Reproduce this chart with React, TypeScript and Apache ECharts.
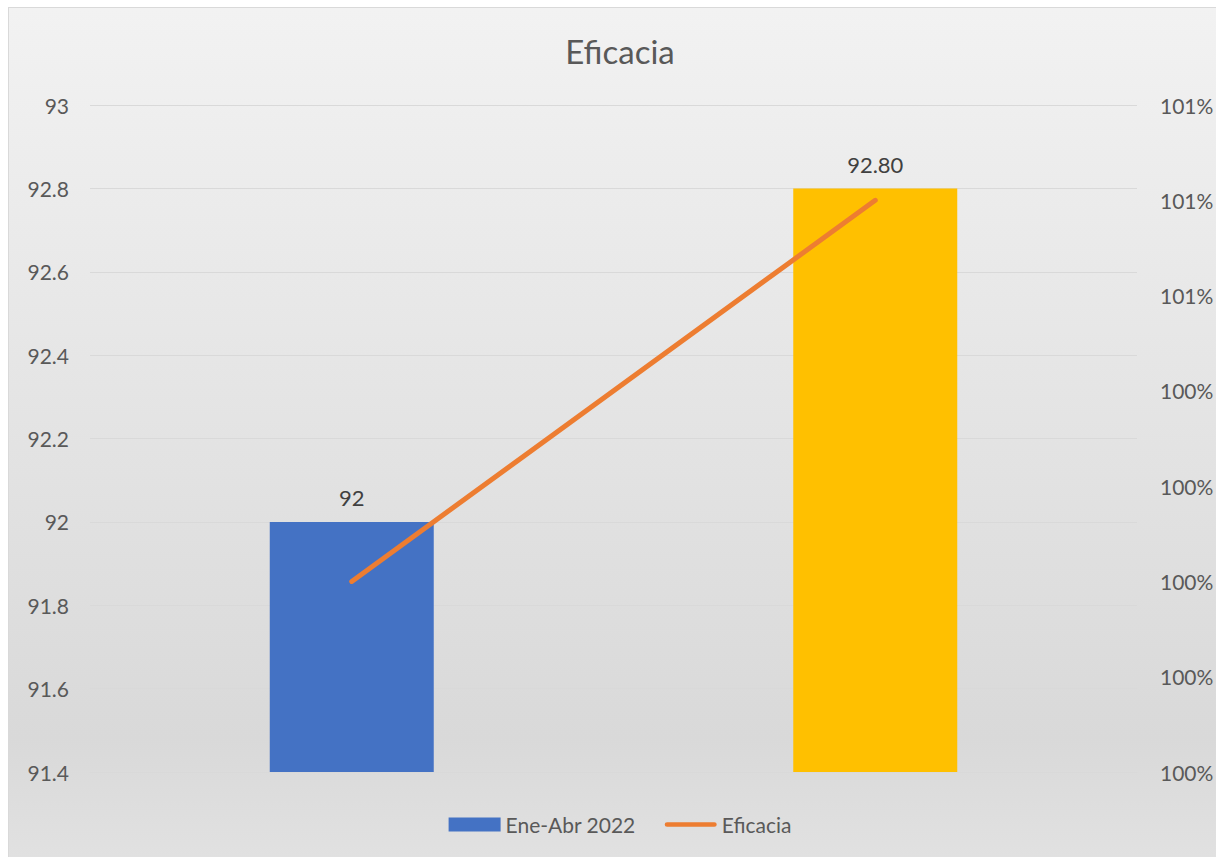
import React, { useEffect, useRef } from "react";
import * as echarts from "echarts";

const categories = ["Periodo 1", "Periodo 2"];
const barValues = [92, 92.8];
const barLabels = ["92", "92.80"];
const barColors = ["#4472C4", "#FFC000"];
const lineValues = [1.002, 1.006];
const barSeriesName = "Ene-Abr 2022";
const lineSeriesName = "Eficacia";
const titleText = "Eficacia";

const FONT = "Lato, 'Open Sans', sans-serif";
const LINE_ICON = "path://M2.5,0 L52.5,0 A2.5,2.5 0 0 1 52.5,5 L2.5,5 A2.5,2.5 0 0 1 2.5,0 Z";

export default function App() {
  const ref = useRef<HTMLDivElement>(null);
  useEffect(() => {
    if (!ref.current) return;
    const chart = echarts.init(ref.current, undefined, { renderer: "svg" });
    chart.setOption({
      animation: false,
      backgroundColor: new echarts.graphic.LinearGradient(0, 0, 0, 1, [
        { offset: 0, color: "#f2f2f2" },
        { offset: 0.83, color: "#d9d9d9" },
        { offset: 1, color: "#e3e3e3" },
      ]),
      textStyle: { fontFamily: FONT },
      title: {
        text: titleText,
        left: "center",
        top: 21,
        textStyle: { fontFamily: FONT, fontSize: 33, fontWeight: "normal", color: "#595959" },
      },
      legend: {
        top: 801,
        left: "center",
        itemWidth: 52,
        itemHeight: 14,
        itemGap: 29,
        symbolKeepAspect: true,
        textStyle: { fontFamily: FONT, fontSize: 21, color: "#595959" },
        data: [
          { name: barSeriesName, icon: "rect", itemStyle: { color: barColors[0], borderWidth: 0 } },
          { name: lineSeriesName, icon: LINE_ICON, itemStyle: { color: "#ED7D31", borderWidth: 0 } },
        ],
      },
      grid: { left: 81, right: 94, top: 97, bottom: 116, containLabel: false },
      xAxis: {
        type: "category",
        data: categories,
        axisLine: { show: true, lineStyle: { color: "#d9d9d9", width: 1 } },
        axisTick: { show: false },
        axisLabel: { show: false },
      },
      yAxis: [
        {
          type: "value",
          min: 91.4,
          max: 93,
          interval: 0.2,
          axisLine: { show: false },
          axisTick: { show: false },
          splitLine: { show: true, lineStyle: { color: "#d9d9d9", width: 1 } },
          axisLabel: {
            margin: 21,
            fontFamily: FONT,
            fontSize: 21,
            color: "#595959",
            formatter: (v: number) => String(parseFloat(v.toFixed(1))),
          },
        },
        {
          type: "value",
          min: 1,
          max: 1.007,
          interval: 0.001,
          position: "right",
          axisLine: { show: false },
          axisTick: { show: false },
          splitLine: { show: false },
          axisLabel: {
            margin: 23,
            fontFamily: FONT,
            fontSize: 21,
            color: "#595959",
            formatter: (v: number) => Math.round(Math.round(v * 1000) / 10) + "%",
          },
        },
      ],
      series: [
        {
          name: barSeriesName,
          type: "bar",
          yAxisIndex: 0,
          barWidth: 164,
          data: barValues.map((v, i) => ({
            value: v,
            itemStyle: { color: barColors[i] },
            label: {
              show: true,
              position: "top",
              distance: 13,
              formatter: barLabels[i],
              fontFamily: FONT,
              fontSize: 22,
              color: "#404040",
            },
          })),
        },
        {
          name: lineSeriesName,
          type: "line",
          yAxisIndex: 1,
          data: lineValues,
          symbol: "none",
          itemStyle: { color: "#ED7D31", borderWidth: 0 },
          lineStyle: { color: "#ED7D31", width: 5, cap: "round" },
          z: 5,
        },
      ],
    });
    return () => chart.dispose();
  }, []);
  return (
    <div
      style={{
        position: "fixed",
        left: 8,
        top: 7,
        width: 1300,
        height: 900,
        border: "1px solid #d9d9d9",
        overflow: "hidden",
      }}
    >
      <div ref={ref} style={{ width: 1222, height: 880 }} />
    </div>
  );
}
